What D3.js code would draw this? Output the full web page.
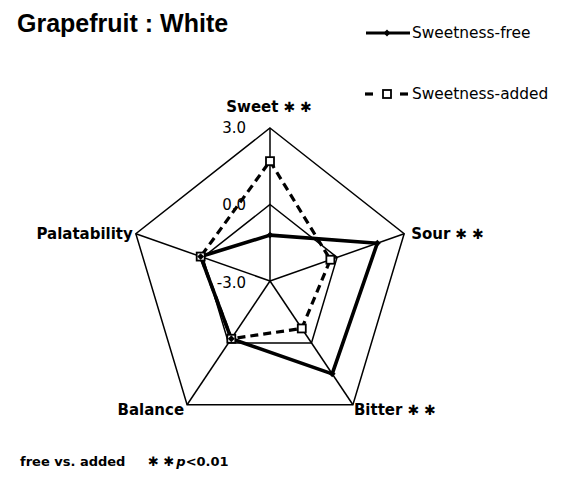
<!DOCTYPE html>
<html>
<head>
<meta charset="utf-8">
<script src="https://cdn.jsdelivr.net/npm/d3@7"></script>
<style>
  html, body { margin: 0; padding: 0; background: #fff; }
  svg { display: block; }
  text { fill: #000; }
</style>
</head>
<body>
<svg id="chart" width="565" height="482"></svg>
<script>
// Radar axes (clockwise from top) and significance flags
const categories = ["Sweet", "Sour", "Bitter", "Balance", "Palatability"];
const significant = [true, true, true, false, false];

// Series values on the -3 .. 3 sensory scale
const sweetnessFree  = [-1.2, 1.8, 1.5, -0.2, 0.1];
const sweetnessAdded = [1.7, -0.3, -0.7, -0.2, 0.1];

// Grid rings and their labels
const tickValues = [-3, 0, 3];
const tickLabels = ["-3.0", "0.0", "3.0"];

const seriesNames = ["Sweetness-free", "Sweetness-added"];

// ---- layout ----
const svg = d3.select("#chart");
const cx = 270, cy = 281;
const R = 153;          // vertical radius of the outer ring
const xSquash = 0.922;  // plot area is slightly narrower than tall

const r = d3.scaleLinear().domain([-3, 3]).range([0, R]);
const angle = d3.scaleLinear().domain([0, categories.length]).range([-Math.PI / 2, 1.5 * Math.PI]);

function pt(i, v) {
  const a = angle(i);
  return [cx + xSquash * r(v) * Math.cos(a), cy + r(v) * Math.sin(a)];
}

const g = svg.append("g");

// grid rings (0.0 and 3.0)
const line = d3.line();
tickValues.filter(t => r(t) > 0).forEach(t => {
  g.append("path")
    .attr("d", line(categories.map((c, i) => pt(i, t))) + "Z")
    .attr("fill", "none")
    .attr("stroke", "#000")
    .attr("stroke-width", 1.5);
});

// spokes
categories.forEach((c, i) => {
  const [x0, y0] = pt(i, -3);
  const [x1, y1] = pt(i, 3);
  g.append("line")
    .attr("x1", x0).attr("y1", y0).attr("x2", x1).attr("y2", y1)
    .attr("stroke", "#000").attr("stroke-width", 1.5);
});

// ring value labels along the top axis
tickValues.forEach((t, k) => {
  const [x, y] = pt(0, t);
  g.append("text")
    .attr("x", x - 24)
    .attr("y", y + (t === -3 ? 2 : 0))
    .attr("text-anchor", "end")
    .attr("dominant-baseline", "central")
    .style("font-family", "DejaVu Sans")
    .style("font-size", "15px")
    .text(tickLabels[k]);
});

// axis labels
const labelLayout = [
  { anchor: "middle", dx: -1, dy: -16 },
  { anchor: "start",  dx: 7,  dy: 5 },
  { anchor: "start",  dx: 1,  dy: 10 },
  { anchor: "end",    dx: -3, dy: 10 },
  { anchor: "end",    dx: -3, dy: 5 }
];
const starMark = "\u2731 \u2731";
categories.forEach((c, i) => {
  const [x, y] = pt(i, 3);
  const L = labelLayout[i];
  const t = g.append("text")
    .attr("x", x + L.dx)
    .attr("y", y + L.dy)
    .attr("text-anchor", L.anchor)
    .style("font-family", "DejaVu Sans")
    .style("font-weight", "bold")
    .style("font-size", "15px");
  t.append("tspan").text(c);
  if (significant[i]) {
    t.append("tspan")
      .attr("dx", 5)
      .style("font-size", "14px")
      .text(starMark);
  }
});

// series
const series = [
  { name: seriesNames[0], values: sweetnessFree,  dash: null,  marker: "diamond" },
  { name: seriesNames[1], values: sweetnessAdded, dash: "8,5", marker: "square" }
];

function drawMarker(sel, type, x, y) {
  if (type === "diamond") {
    sel.append("path")
      .attr("d", d3.symbol().type(d3.symbolDiamond2).size(30)())
      .attr("transform", `translate(${x},${y})`)
      .attr("fill", "#000");
  } else {
    sel.append("rect")
      .attr("x", x - 4).attr("y", y - 4)
      .attr("width", 8).attr("height", 8)
      .attr("fill", "#fff")
      .attr("stroke", "#000")
      .attr("stroke-width", 1.8);
  }
}

// draw the dashed series under the solid one
[series[1], series[0]].forEach(s => {
  const pts = s.values.map((v, i) => pt(i, v));
  g.append("path")
    .attr("d", line(pts) + "Z")
    .attr("fill", "none")
    .attr("stroke", "#000")
    .attr("stroke-width", s.dash ? 3.2 : 3.6)
    .attr("stroke-linejoin", "round")
    .attr("stroke-dasharray", s.dash);
});
[series[1], series[0]].forEach(s => {
  s.values.forEach((v, i) => {
    const [x, y] = pt(i, v);
    drawMarker(g, s.marker, x, y);
  });
});

// legend
const legendY = [33, 94];
series.forEach((s, k) => {
  const y = legendY[k];
  const lg = svg.append("g");
  if (s.dash) {
    lg.append("line").attr("x1", 365).attr("x2", 373).attr("y1", y).attr("y2", y)
      .attr("stroke", "#000").attr("stroke-width", 3.2);
    lg.append("line").attr("x1", 400).attr("x2", 408).attr("y1", y).attr("y2", y)
      .attr("stroke", "#000").attr("stroke-width", 3.2);
  } else {
    lg.append("line").attr("x1", 366).attr("x2", 410).attr("y1", y).attr("y2", y)
      .attr("stroke", "#000").attr("stroke-width", 3.2);
  }
  drawMarker(lg, s.marker, 387, y);
  lg.append("text")
    .attr("x", 412).attr("y", y)
    .attr("dominant-baseline", "central")
    .style("font-family", "DejaVu Sans")
    .style("font-size", "15.4px")
    .text(s.name);
});

// title
svg.append("text")
  .attr("x", 17).attr("y", 32)
  .style("font-family", "Liberation Sans")
  .style("font-weight", "bold")
  .style("font-size", "25px")
  .text("Grapefruit : White");

// significance note
const note = svg.append("text")
  .attr("x", 20).attr("y", 466)
  .style("font-family", "DejaVu Sans")
  .style("font-weight", "bold")
  .style("font-size", "13px");
note.append("tspan").text("free vs. added");
note.append("tspan").attr("x", 148)
  .style("font-size", "13px").text(starMark);
note.append("tspan").attr("dx", 2).style("font-style", "italic").text("p");
note.append("tspan").text("<0.01");
</script>
</body>
</html>
